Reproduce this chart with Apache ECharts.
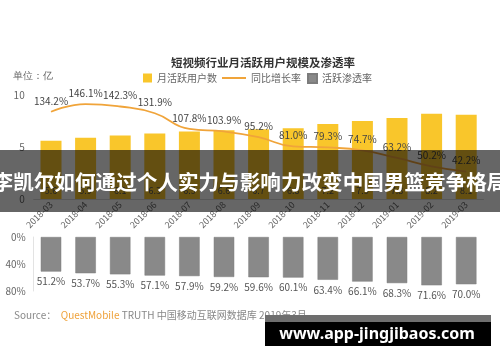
<!DOCTYPE html>
<html>
<head>
<meta charset="utf-8">
<script src="https://cdn.jsdelivr.net/npm/echarts@6/dist/echarts.min.js"></script>
<style>
html,body{margin:0;padding:0;background:#fff;}
#c{width:500px;height:362px;}
</style>
</head>
<body>
<div id="c"></div>
<script>
var months = ['2018-03','2018-04','2018-05','2018-06','2018-07','2018-08','2018-09','2018-10','2018-11','2018-12','2019-01','2019-02','2019-03'];
var mau = [5.6, 5.9, 6.1, 6.3, 6.5, 6.6, 6.7, 6.8, 7.2, 7.5, 7.8, 8.2, 8.1];
var growth = [134.2, 146.1, 142.3, 131.9, 107.8, 103.9, 95.2, 81.0, 79.3, 74.7, 63.2, 50.2, 42.2];
var penetration = [51.2, 53.7, 55.3, 57.1, 57.9, 59.2, 59.6, 60.1, 63.4, 66.1, 68.3, 71.6, 70.0];
var topTicks = [0, 5, 10];
var bottomTicks = [0, 40, 80];

var FONT = '"Noto Sans CJK SC", "Noto Sans", sans-serif';
var chart = echarts.init(document.getElementById('c'), null, {renderer: 'canvas'});
var legendText = {color: '#666', fontSize: 10, fontFamily: FONT};

chart.setOption({
  animation: false,
  backgroundColor: '#fff',
  textStyle: {fontFamily: FONT},
  title: {
    text: '短视频行业月活跃用户规模及渗透率',
    left: 166, top: 52,
    textStyle: {fontSize: 11.5, fontWeight: 'bold', color: '#333', fontFamily: FONT}
  },
  legend: [
    {data: [{name: '月活跃用户数', icon: 'rect'}], left: 143, top: 73, itemWidth: 9, itemHeight: 9, itemGap: 4, textStyle: legendText, padding: 0},
    {data: [{name: '同比增长率', icon: 'path://M0,0H24V2H0Z'}], left: 222, top: 73, itemWidth: 24, itemHeight: 2, itemGap: 4, textStyle: legendText, padding: 0},
    {data: [{name: '活跃渗透率', icon: 'rect'}], left: 307, top: 73, itemWidth: 9, itemHeight: 9, itemGap: 4, textStyle: legendText, padding: 0}
  ],
  grid: [
    {left: 33.7, right: 16.5, top: 95, height: 104},
    {left: 33.7, right: 16.5, top: 237, height: 54}
  ],
  xAxis: [
    {type: 'category', gridIndex: 0, data: months,
     axisLine: {lineStyle: {color: '#d9d9d9'}}, axisTick: {show: false},
     axisLabel: {rotate: 45, fontSize: 9, color: '#666', margin: 4, fontFamily: FONT}},
    {type: 'category', gridIndex: 1, data: months, show: false}
  ],
  yAxis: [
    {type: 'value', gridIndex: 0, min: topTicks[0], max: topTicks[2], interval: topTicks[1] - topTicks[0],
     splitLine: {show: false}, axisLine: {show: false}, axisTick: {show: false},
     axisLabel: {fontSize: 10, color: '#666', margin: 9, fontFamily: FONT}},
    {type: 'value', gridIndex: 0, min: 0, max: 160, show: false, splitLine: {show: false}},
    {type: 'value', gridIndex: 1, inverse: true, min: bottomTicks[0], max: bottomTicks[2], interval: bottomTicks[1] - bottomTicks[0],
     splitLine: {show: false}, axisLine: {show: true, lineStyle: {color: '#e3e3e3'}}, axisTick: {show: false},
     axisLabel: {fontSize: 10, color: '#666', margin: 8, formatter: '{value}%', fontFamily: FONT}}
  ],
  series: [
    {name: '月活跃用户数', type: 'bar', xAxisIndex: 0, yAxisIndex: 0, data: mau, barWidth: 21,
     itemStyle: {color: '#F9C62B'},
     label: {show: true, position: 'insideBottom', distance: 4, fontSize: 9, color: '#555',
             formatter: function (p) { return p.value.toFixed(1); }}},
    {name: '同比增长率', type: 'line', xAxisIndex: 0, yAxisIndex: 1, data: growth, smooth: true,
     symbol: 'circle', symbolSize: 0.01, showSymbol: true,
     lineStyle: {color: '#F0A43A', width: 1.8}, itemStyle: {color: '#F0A43A'},
     label: {show: true, position: 'top', distance: 6, fontSize: 10, color: '#444',
             formatter: function (p) { return p.value.toFixed(1) + '%'; }}, z: 5},
    {name: '活跃渗透率', type: 'bar', xAxisIndex: 1, yAxisIndex: 2, data: penetration, barWidth: 20.5,
     itemStyle: {color: '#898989', borderColor: '#7c7c7c', borderWidth: 0.5},
     label: {show: true, position: 'bottom', distance: 5, fontSize: 10, color: '#555',
             formatter: function (p) { return p.value.toFixed(1) + '%'; }}}
  ],
  graphic: [
    {type: 'text', left: 13, top: 71, style: {text: '单位：亿', fontSize: 10, fill: '#666', font: '10px ' + FONT}},
    {type: 'text', left: 14, top: 310, style: {
      rich: {
        a: {fontSize: 10, fill: '#888', fontFamily: FONT},
        q: {fontSize: 10, fill: '#EFA23A', fontFamily: FONT}
      },
      text: '{a|Source：  }{q|QuestMobile}{a| TRUTH 中国移动互联网数据库 2019年3月}'
    }},
    {type: 'rect', shape: {x: 0, y: 150, width: 500, height: 62}, style: {fill: 'rgba(0,0,0,0.6)'}, z: 100},
    {type: 'text', x: 250, y: 182, z: 101, style: {
      text: '李凯尔如何通过个人实力与影响力改变中国男篮竞争格局',
      fill: '#fff', font: 'bold 20.6px "Noto Sans CJK SC", sans-serif',
      textAlign: 'center', textVerticalAlign: 'middle'
    }},
    {type: 'rect', shape: {x: 265, y: 315, width: 226, height: 7}, style: {fill: '#6e6e6e'}, z: 100},
    {type: 'rect', shape: {x: 265, y: 322, width: 226, height: 24}, style: {fill: '#000'}, z: 100},
    {type: 'text', x: 377, y: 334, z: 101, style: {
      text: 'www.app-jingjibaos.com',
      fill: '#fff', font: 'bold 16px "Noto Sans", "Open Sans", sans-serif',
      textAlign: 'center', textVerticalAlign: 'middle'
    }}
  ]
});
</script>
</body>
</html>
